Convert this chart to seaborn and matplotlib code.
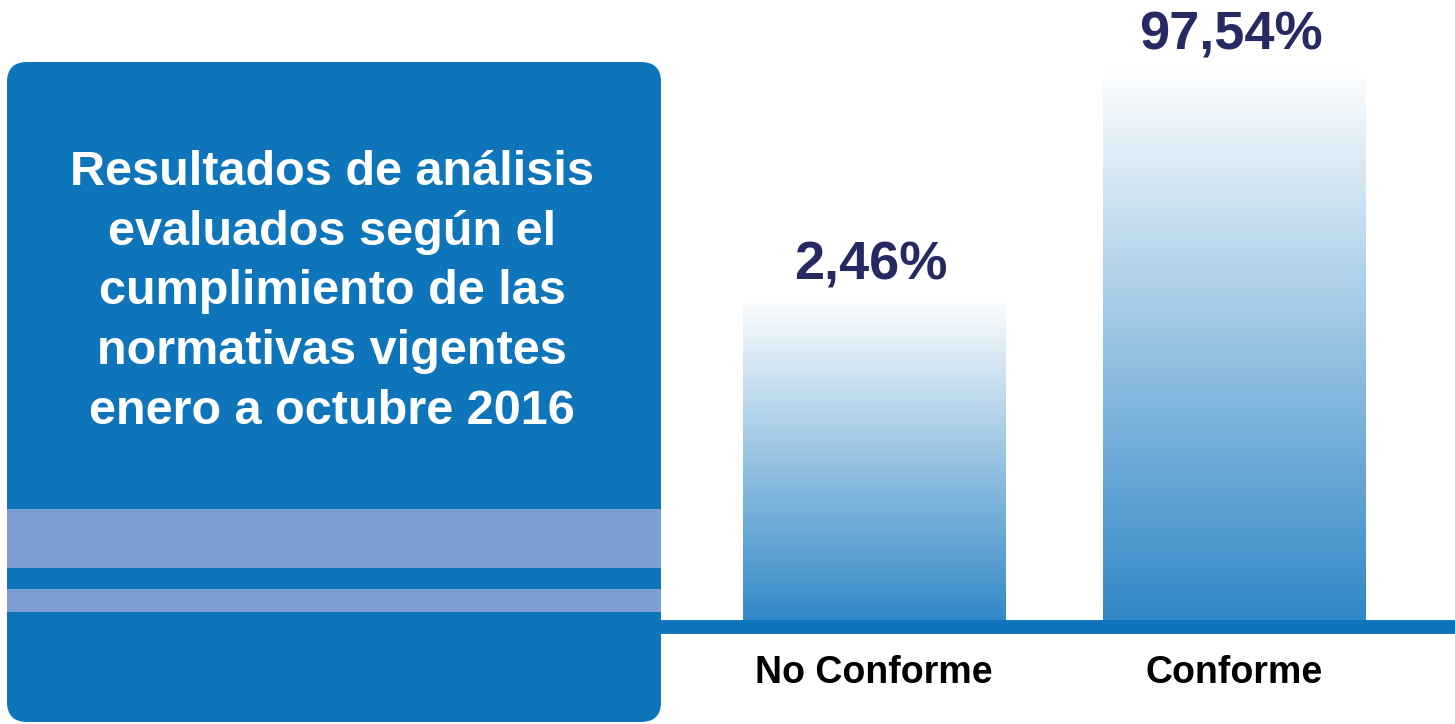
import numpy as np
import matplotlib
matplotlib.use("Agg")
import matplotlib.pyplot as plt
from matplotlib.patches import FancyBboxPatch, Rectangle
from matplotlib.colors import to_rgb
import seaborn as sns

# data
categories = ["No Conforme", "Conforme"]
percentages = [2.46, 97.54]
value_labels = ["2,46%", "97,54%"]
title_lines = ["Resultados de análisis",
               "evaluados según el",
               "cumplimiento de las",
               "normativas vigentes",
               "enero a octubre 2016"]

sns.set_style("white")
plt.rcParams['font.family'] = ['Liberation Sans', 'DejaVu Sans']

panel_blue = "#0E75BB"
stripe_blue = "#7D9ED2"
bar_bottom = "#2E86C6"
label_navy = "#272A62"

fig = plt.figure(figsize=(14.55, 7.24), dpi=100)

# background layer in pixel units: left panel with title and stripes
ax_bg = fig.add_axes([0, 0, 1, 1])
ax_bg.set_xlim(0, 1455)
ax_bg.set_ylim(724, 0)
ax_bg.axis("off")
ax_bg.add_patch(FancyBboxPatch((7, 62), 654, 660,
                               boxstyle="round,pad=0,rounding_size=20",
                               facecolor=panel_blue, edgecolor="none"))
ax_bg.add_patch(Rectangle((7, 509), 654, 59, facecolor=stripe_blue, edgecolor="none"))
ax_bg.add_patch(Rectangle((7, 589), 654, 23, facecolor=stripe_blue, edgecolor="none"))
ax_bg.text(332, 292, "\n".join(title_lines), ha="center", va="center",
           fontsize=35, fontweight="bold", color="white", linespacing=1.42)

# bar chart
ax = fig.add_axes([661 / 1455, 1 - 627 / 724, 1 - 661 / 1455, 627 / 724])
ax.patch.set_alpha(0)
sns.barplot(x=categories, y=percentages, ax=ax, width=0.73, color=bar_bottom)
ax.set_yscale("log")
ax.set_xlim(-0.592, 1.614)
ax.set_ylim(0.01213, 276)

# gradient fill: white on top, blue at the bottom of each bar
top = np.array([1.0, 1.0, 1.0])
bot = np.array(to_rgb(bar_bottom))
t = np.linspace(0, 1, 256)[:, None]
grad = (top * (1 - t) + bot * t)[:, None, :]
to_axes = ax.transData + ax.transAxes.inverted()
for bar in ax.patches:
    x0 = bar.get_x()
    x1 = x0 + bar.get_width()
    h = bar.get_height()
    (ax0, ay1), (ax1, _) = to_axes.transform([[x0, h], [x1, h]])
    bar.set_facecolor("none")
    bar.set_edgecolor("none")
    ax.imshow(grad, extent=[ax0, ax1, 0, ay1], transform=ax.transAxes,
              aspect="auto", origin="upper", zorder=1)

for i, (v, lab) in enumerate(zip(percentages, value_labels)):
    ax.annotate(lab, xy=(i, v), xytext=(-2, 11), textcoords="offset points",
                ha="center", va="baseline", fontsize=39, fontweight="bold",
                color=label_navy)

sns.despine(ax=ax, left=True)
ax.spines["bottom"].set_color(panel_blue)
ax.spines["bottom"].set_linewidth(10)
ax.spines["bottom"].set_capstyle("butt")
ax.spines["bottom"].set_zorder(3)
ax.set_yticks([])
ax.yaxis.set_minor_locator(matplotlib.ticker.NullLocator())
ax.tick_params(axis="x", length=0, pad=20, labelsize=27)
for tl in ax.get_xticklabels():
    tl.set_fontweight("bold")
    tl.set_color("black")
ax.set_xlabel("")
ax.set_ylabel("")

fig.savefig("out.png", dpi=100)
